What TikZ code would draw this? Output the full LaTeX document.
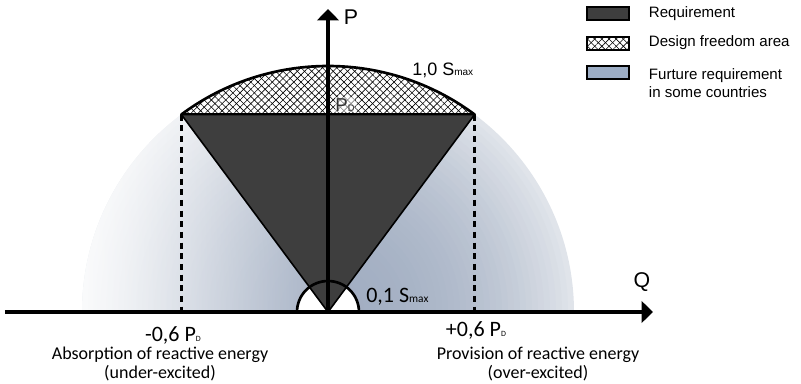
\documentclass[tikz,border=0pt]{standalone}
\usepackage{fontspec}
\setmainfont{Carlito}
\newfontfamily\legfont{Liberation Sans}
\usetikzlibrary{arrows.meta,patterns.meta,fadings,positioning}

\definecolor{reqgray}{HTML}{3E3E3E}
\definecolor{futblue}{HTML}{A2AEC2}
\definecolor{futlight}{HTML}{E0E4EA}
\definecolor{legblue}{HTML}{9CADC5}
\newcommand{\lowtext}[2][7]{{\fontsize{#1}{#1}\selectfont #2}}

\begin{document}
\begin{tikzpicture}[x=0.75pt, y=0.75pt,
    axis/.style={line width=2.5pt, -{Triangle[width=16pt,length=8.5pt]}},
    guide/.style={line width=2pt, dash pattern=on 4.5pt off 3.5pt},
    hatchne/.style={pattern={Lines[angle=45,distance=3.8pt,line width=0.45pt]}},
    hatchnw/.style={pattern={Lines[angle=-45,distance=3.8pt,line width=0.45pt]}},
    legbox/.style={draw, line width=1.5pt, minimum width=31.5pt, minimum height=9.75pt, inner sep=0pt},
    legtext/.style={font=\legfont\fontsize{11.3}{13.5}\selectfont, align=left, inner sep=0pt},
    axlabel/.style={font=\legfont\fontsize{16}{18}\selectfont, inner sep=0pt},
    val/.style={font=\fontsize{16.5}{18}\selectfont, inner sep=0pt},
    desc/.style={font=\fontsize{13.5}{14.5}\selectfont, align=center, inner sep=0pt}
]
    \useasboundingbox (-328,-71) rectangle (473,312);

    \coordinate (O) at (0,0);
    \coordinate (A) at (126.6:246);
    \coordinate (B) at (53.4:246);
    \coordinate (qstart) at (-323,0);
    \coordinate (qend) at (325,0);
    \coordinate (pend) at (0,303);

    % Future requirement (blue half disc)
    \foreach \k in {0,...,40}{
        \pgfmathtruncatemacro{\mix}{100*((41-\k)/41)^2.2}
        \fill[futlight!\mix!futblue] (O) ++(246-6*\k,0)
            arc[start angle=0, end angle=180, radius=246-6*\k] -- cycle;
    }
    \begin{scope}
        \clip (O) ++(246,0) arc[start angle=0, end angle=180, radius=246] -- cycle;
        \fill[white, path fading=east] (-300,0) rectangle (20,246);
    \end{scope}

    % Design freedom area
    \fill[white] (A) arc[start angle=126.6, end angle=53.4, radius=246] -- cycle;
    \fill[hatchne] (A) arc[start angle=126.6, end angle=53.4, radius=246] -- cycle;
    \fill[hatchnw] (A) arc[start angle=126.6, end angle=53.4, radius=246] -- cycle;
    \draw[line width=2pt, line join=round] (A) arc[start angle=126.6, end angle=53.4, radius=246] -- cycle;

    % Requirement
    \fill[white] (-31,0) arc[start angle=180, end angle=0, radius=31] -- cycle;
    \filldraw[fill=reqgray, draw=black, line width=1.2pt, line join=round] (O) -- (A) -- (B) -- cycle;
    \draw[line width=2pt] (-31,0) arc[start angle=180, end angle=0, radius=31];

    \draw[guide] (A) -- (A |- O);
    \draw[guide] (B) -- (B |- O);

    % Axes
    \draw[axis] (qstart) -- (qend);
    \draw[axis] (O) -- (pend);

    \node[axlabel] (plabel) at (23,295) {P};
    \node[axlabel] (qlabel) at (314,30) {Q};
    \node[font=\legfont\fontsize{13.5}{16}\selectfont, inner sep=0pt, anchor=base west] (smax) at (84,237) {1,0 S\lowtext[7.5]{max}};
    \node[font=\legfont\fontsize{14}{16}\selectfont, text=black!80, fill=white, fill opacity=0.5, text opacity=1, inner sep=0.5pt, anchor=base west] (pd) at (6.5,201) {P\lowtext[7]{D}};
    \node[val, anchor=base west] (smin) at (38,10) {0,1 S\lowtext[8.5]{max}};

    \node[val, anchor=base] (qneg) at (-155,-29) {-0,6 P\lowtext[6]{D}};
    \node[val, anchor=base] (qpos) at (148,-24) {+0,6 P\lowtext[6]{D}};
    \node[desc] (under) at (-168,-52) {Absorption of reactive energy\\(under-excited)};
    \node[desc] (over) at (210,-52) {Provision of reactive energy\\(over-excited)};

    % Legend
    \node[legbox, fill=reqgray] (reqbox) at (280,298.5) {};
    \node[legbox, fill=white, hatchne] (freebox) at (280,269) {};
    \node[legbox, hatchnw] at (freebox) {};
    \node[legbox, fill=legblue] (futbox) at (280,239.5) {};

    \node[legtext, right=14pt of reqbox] (reqtext) {Requirement};
    \node[legtext, right=14pt of freebox] (freetext) {Design freedom area};
    \node[legtext, right=14pt of futbox.north east, anchor=north west, yshift=-2.5pt] (futtext) {Furture requirement\\in some countries};
\end{tikzpicture}
\end{document}
